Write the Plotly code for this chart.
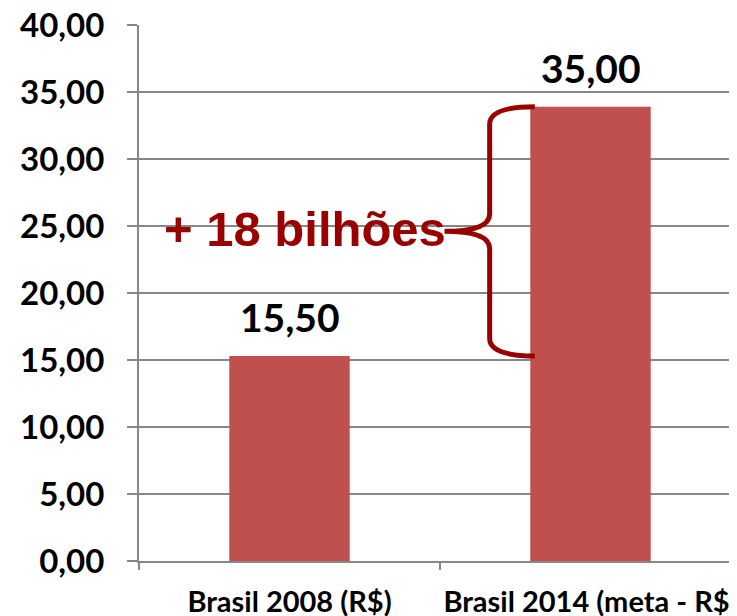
import plotly.graph_objects as go

# ---- data ----
categories = ["Brasil 2008 (R$)", "Brasil 2014 (meta - R$)"]
values = [15.3, 33.9]
value_labels = ["15,50", "35,00"]
y_ticks = [0, 5, 10, 15, 20, 25, 30, 35, 40]
y_tick_labels = ["0,00", "5,00", "10,00", "15,00", "20,00", "25,00", "30,00", "35,00", "40,00"]
brace_label = "+ 18 bilhões"

BAR_COLOR = "#C0504D"
DARK_RED = "#990000"
GRID = "#878787"
FONT = "Lato"
BAR_W = 0.4

xpos = list(range(len(categories)))

fig = go.Figure()
fig.add_trace(go.Bar(
    x=xpos, y=values, width=BAR_W,
    marker=dict(color=BAR_COLOR, line=dict(width=0)),
    hoverinfo="skip",
))

# value labels above bars
for xi, v, t in zip(xpos, values, value_labels):
    fig.add_annotation(
        x=xi, y=v, text=t, showarrow=False, yanchor="bottom", yshift=14,
        font=dict(family=FONT, size=39, color="black", weight="bold"),
    )

# curly brace between the two bar tops (left of the second bar)
y_top = values[1]
y_bot = values[0]
y_mid = (y_top + y_bot) / 2
xe = xpos[1] - BAR_W / 2 + 0.015
xv = xe - 0.15
xt = xe - 0.30
r = 1.3
path = (
    f"M {xe},{y_top} Q {xv},{y_top} {xv},{y_top - r} "
    f"L {xv},{y_mid + r} Q {xv},{y_mid} {xt},{y_mid} "
    f"Q {xv},{y_mid} {xv},{y_mid - r} "
    f"L {xv},{y_bot + r} Q {xv},{y_bot} {xe},{y_bot}"
)
fig.add_shape(type="path", path=path, xref="x", yref="y",
              line=dict(color=DARK_RED, width=5), layer="above")

fig.add_annotation(
    x=xt, y=y_mid, text=brace_label, showarrow=False,
    xanchor="right", yanchor="middle", yshift=2, xshift=3,
    font=dict(family="Liberation Sans", size=49, color=DARK_RED, weight="bold"),
)

# page body has an 8px margin, so the figure is offset by 8px
fig.update_layout(
    width=737, height=616,
    margin=dict(l=131, r=0, t=17, b=63),
    paper_bgcolor="white", plot_bgcolor="white",
    showlegend=False,
    bargap=0.6,
)
fig.update_xaxes(
    automargin=False,
    range=[-0.5, -0.5 + 606 / 301],
    tickmode="array", tickvals=xpos, ticktext=categories,
    ticks="", showgrid=False, zeroline=False,
    showline=True, linecolor=GRID, linewidth=2,
    tickfont=dict(family=FONT, size=29, color="black", weight="bold"),
    ticklabelstandoff=14,
    ticklabeloverflow="allow",
    minor=dict(tickmode="array", tickvals=[-0.5, 0.5, 1.5], ticks="outside",
               ticklen=7, tickwidth=2, tickcolor=GRID, showgrid=False),
)
fig.update_yaxes(
    automargin=False,
    range=[0, 40],
    tickmode="array", tickvals=y_ticks, ticktext=y_tick_labels,
    showgrid=True, gridcolor=GRID, gridwidth=2,
    zeroline=False,
    showline=True, linecolor=GRID, linewidth=2,
    ticks="outside", ticklen=10, tickwidth=2, tickcolor=GRID,
    tickfont=dict(family=FONT, size=33, color="black", weight="bold"),
    ticklabelstandoff=16,
    ticklabeloverflow="allow",
)

fig.write_html("out.html")
